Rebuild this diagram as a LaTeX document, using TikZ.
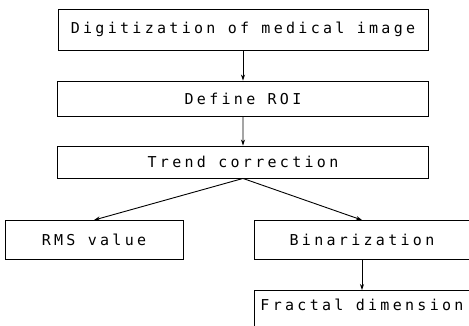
\documentclass[tikz,border=0pt]{standalone}
\usepackage{fontspec}
\newfontfamily\flowfont[LetterSpace=22]{DejaVu Sans Mono}
\usetikzlibrary{arrows.meta}

\begin{document}
\begin{tikzpicture}[x=1pt,y=1pt]
                        \tikzstyle{every node}=[draw, line width=0.9pt, inner sep=0pt, font=\flowfont\fontsize{15}{18}\selectfont]
                        \tikzstyle{level 1}=[level distance=69pt]
                        \tikzstyle{level 2}=[level distance=63.5pt]
                        \tikzstyle{level 3}=[level distance=78pt, sibling distance=268pt]
                        \tikzstyle{level 4}=[level distance=70pt]
                        \tikzset{
                            edge from parent/.style={draw, line width=0.9pt, -{Stealth[length=6pt,width=4pt]}},
                            parent anchor=south, child anchor=north
                        }
                        \useasboundingbox (0,0) rectangle (469,326);
                        \clip (0,0) rectangle (469,326);
                        \node (dig) [minimum width=370pt, minimum height=41pt] at (243,296.5) {Digitization of medical image}
                            child {node (roi) [minimum width=371pt, minimum height=35pt] {Define ROI}
                                child {node (trend) [minimum width=371pt, minimum height=32pt] {Trend correction}
                                    child {node (rms) [xshift=-15pt, minimum width=178pt, minimum height=39pt] {RMS value}
                                    }
                                    child {node (bin) [xshift=-15pt, minimum width=216pt, minimum height=39pt] {Binarization}
                                        child {node (frac) [minimum width=216pt, text height=20pt, text depth=19pt] {Fractal dimension}
                                        }
                                    }
                                }
                            };
                    \end{tikzpicture}
\end{document}
